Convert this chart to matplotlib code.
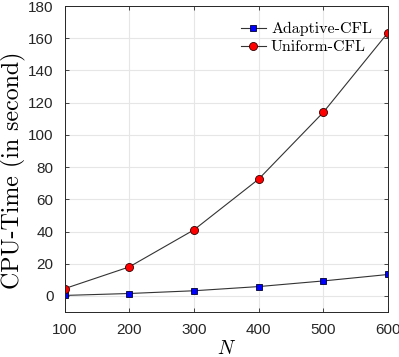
import matplotlib
matplotlib.use("Agg")
import matplotlib.pyplot as plt

N = [100, 200, 300, 400, 500, 600]
adaptive = [0.3, 1.5, 3.2, 5.8, 9.3, 13.3]
uniform = [4.5, 18.0, 41.0, 72.5, 114.0, 163.5]

plt.rcParams['mathtext.fontset'] = 'cm'
plt.rcParams['font.family'] = ['Liberation Sans', 'DejaVu Sans']

fig = plt.figure(figsize=(3.99, 3.57), dpi=100)
ax = fig.add_axes([0.1617, 0.126, 0.9724 - 0.1617, 0.983 - 0.126])

ax.plot(N, adaptive, '-', color='#333333', lw=0.8, marker='s', ms=4.2,
        mfc='#0000ff', mec='#000033', mew=0.6, label='Adaptive-CFL')
ax.plot(N, uniform, '-', color='#333333', lw=0.8, marker='o', ms=5.8,
        mfc='#ff0000', mec='#330000', mew=0.6, label='Uniform-CFL')

ax.set_xlim(100, 600)
ax.set_ylim(-10, 180)
ax.set_xticks(N)
ax.set_yticks(range(0, 181, 20))
ax.grid(True, color='#e6e6e6', lw=0.8)
ax.set_axisbelow(True)
ax.tick_params(direction='in', top=True, right=True, length=3, width=0.6,
               colors='#262626', labelsize=11, pad=8)
for s in ax.spines.values():
    s.set_color('#262626')
    s.set_linewidth(0.7)

ax.set_xlabel(r'$N$', fontsize=14, labelpad=2)
ax.set_ylabel('CPU-Time (in second)', fontsize=17.2, family='cmr10')
ax.yaxis.set_label_coords(-0.12, 0.465)

leg = ax.legend(loc='upper right', prop={'family': 'cmr10', 'size': 11.5},
                frameon=False, handlelength=1.6, handletextpad=0.3,
                borderaxespad=0.5, borderpad=0.5, labelspacing=0.25)

fig.savefig('out.png', dpi=100)
